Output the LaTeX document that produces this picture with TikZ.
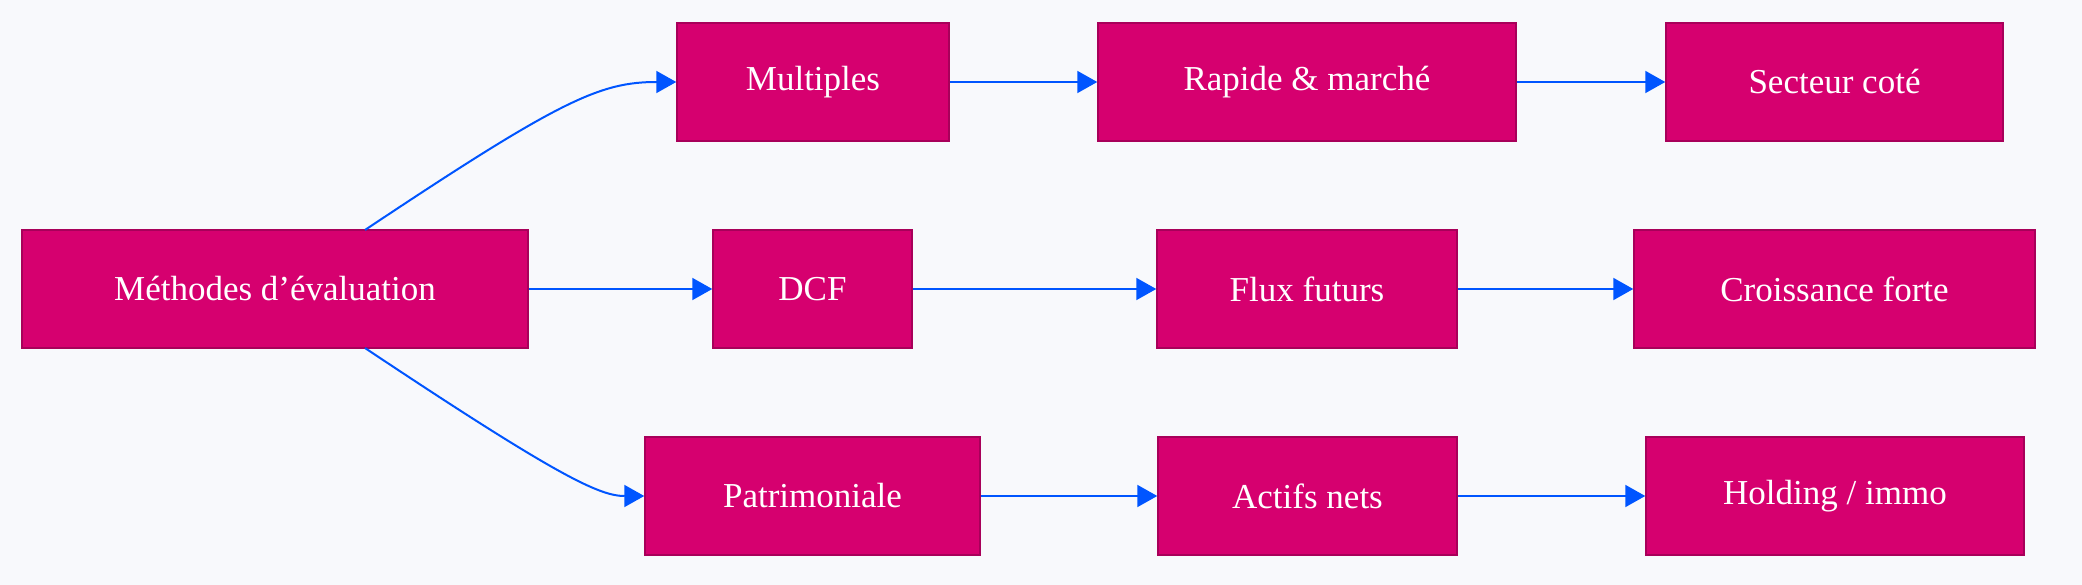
\documentclass[tikz,border=0pt]{standalone}
\usepackage{fontspec}
\setmainfont{Liberation Serif}
\usetikzlibrary{arrows.meta,calc}
\definecolor{bg}{HTML}{F8F9FC}
\definecolor{boxf}{HTML}{D6006F}
\definecolor{boxd}{HTML}{A8005A}
\definecolor{arr}{HTML}{0055FF}
\begin{document}
\begin{tikzpicture}[x=1pt,y=-1pt,
  box/.style={draw=boxd,line width=1.5pt,fill=boxf,text=white,font=\fontsize{35}{40}\selectfont,minimum height=118pt,inner sep=0pt,anchor=center},
  con/.style={draw=arr,line width=2pt,-{Triangle[length=20pt,width=22pt]}}]
\fill[bg] (0,0) rectangle (2082,585);
\useasboundingbox (0,0) rectangle (2082,585);
\node[box,minimum width=506pt] (me) at (275,289) {Méthodes d'évaluation};
\node[box,minimum width=272pt] (mu) at (813,82) {Multiples};
\node[box,minimum width=418pt] (ra) at (1307,82) {Rapide \& marché};
\node[box,minimum width=337pt] (se) at (1834.5,82) {Secteur coté};
\node[box,minimum width=199pt] (dc) at (812.5,289) {DCF};
\node[box,minimum width=300pt] (fl) at (1307,289) {Flux futurs};
\node[box,minimum width=401pt] (cr) at (1834.5,289) {Croissance forte};
\node[box,minimum width=335pt] (pa) at (812.5,496) {Patrimoniale};
\node[box,minimum width=299pt] (ac) at (1307.5,496) {Actifs nets};
\node[box,minimum width=378pt] (ho) at (1835,496) {Holding / immo};
\coordinate (s1) at (365,230);
\coordinate (s2) at (365,348);
\draw[con] (s1) .. controls (560,100) and (600,82) .. (mu.west);
\draw[con] (s2) .. controls (560,478) and (600,496) .. (pa.west);
\draw[con] (me) -- (dc);
\draw[con] (mu) -- (ra);
\draw[con] (ra) -- (se);
\draw[con] (dc) -- (fl);
\draw[con] (fl) -- (cr);
\draw[con] (pa) -- (ac);
\draw[con] (ac) -- (ho);
\end{tikzpicture}
\end{document}
